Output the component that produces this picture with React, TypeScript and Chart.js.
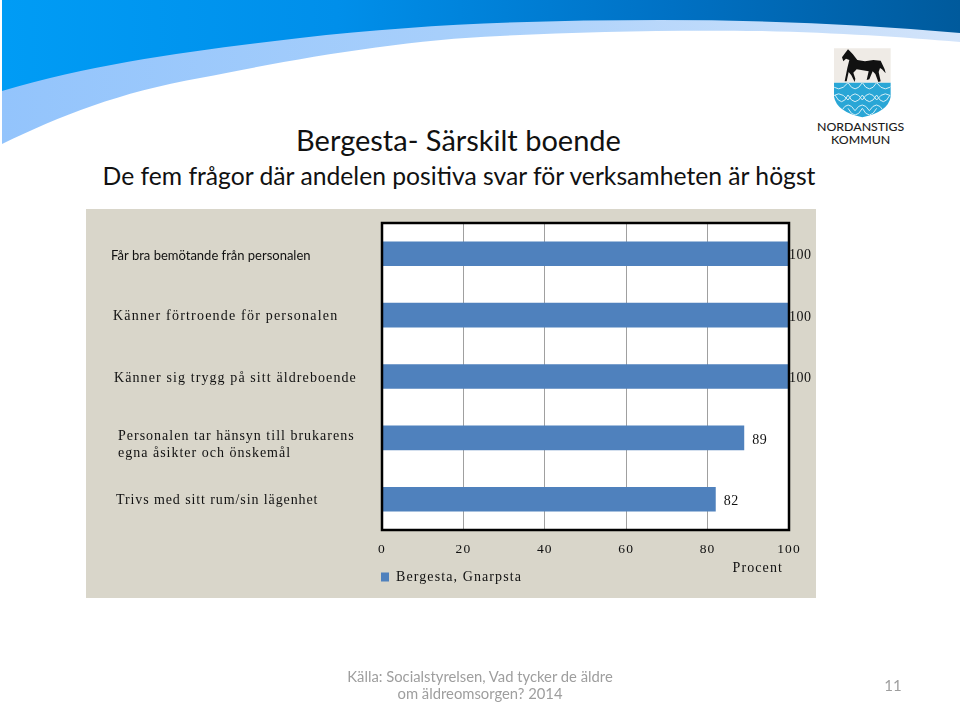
import React, { useEffect, useRef } from "react";
import { Chart, registerables } from "chart.js";

Chart.register(...registerables);

const categories: (string | string[])[] = [
  "Får bra bemötande från personalen",
  "Känner förtroende för personalen",
  "Känner sig trygg på sitt äldreboende",
  ["Personalen tar hänsyn till brukarens", "egna åsikter och önskemål"],
  "Trivs med sitt rum/sin lägenhet",
];
const seriesName = "Bergesta, Gnarpsta";
const seriesValues = [100, 100, 100, 89, 82];
const axisTitle = "Procent";
const SERIF = '"Liberation Serif"';

const labelLeft = [111, 113, 114, 118, 116];
const labelShift = [2, 1, 2, 7, 1];
const labelSpacing = ["0px", "1.2px", "1.1px", "1px", "0.9px"];

const overlay = {
  id: "overlay",
  beforeDraw(chart: any) {
    chart.ctx.letterSpacing = "1.1px";
    const leg = chart.legend;
    if (leg) { leg.left = 377; leg.right = 640; leg.top = 566; leg.bottom = 590; }
  },
  afterDraw(chart: any) {
    const { ctx, chartArea: a, scales } = chart;
    ctx.save();
    ctx.strokeStyle = "#000";
    ctx.lineWidth = 2.5;
    ctx.strokeRect(a.left, a.top, a.right - a.left, a.bottom - a.top);

    // category labels
    ctx.fillStyle = "#111";
    ctx.textBaseline = "middle";
    ctx.textAlign = "left";
    categories.forEach((c, i) => {
      const y = scales.y.getPixelForValue(i);
      const lines = Array.isArray(c) ? c : [c];
      lines.forEach((line, j) => {
        const yy = y + (j - (lines.length - 1) / 2) * 16.5 + labelShift[i];
        ctx.letterSpacing = labelSpacing[i];
        ctx.font = i === 0 ? '13px "Lato"' : `14px ${SERIF}`;
        ctx.fillText(line, labelLeft[i], yy);
      });
    });

    // data labels
    ctx.letterSpacing = "0.5px";
    ctx.font = `14px ${SERIF}`;
    const meta = chart.getDatasetMeta(0);
    meta.data.forEach((bar: any, i: number) => {
      const v = seriesValues[i];
      ctx.textAlign = "left";
      ctx.fillText(String(v), bar.x + (v === 100 ? 0 : 8), bar.y + 2);
    });

    // axis title
    ctx.letterSpacing = "1.1px";
    ctx.textAlign = "right";
    ctx.fillText(axisTitle, 783, 568);
    ctx.restore();
  },
};

function Logo() {
  return (
    <svg
      style={{ position: "absolute", left: 810, top: 40 }}
      width={100}
      height={115}
      viewBox="0 0 300 345"
    >
      <defs>
        <clipPath id="water">
          <path d="M72 128H242V170Q235 215 157 232Q80 215 72 170Z" />
        </clipPath>
      </defs>
      <path d="M72 25H242V128H72Z" fill="#EFEBE6" />
      <path d="M72 128H242V170Q235 215 157 232Q80 215 72 170Z" fill="#29A6D6" />
      <g fill="none" stroke="#D5EEF6" strokeWidth="3" clipPath="url(#water)">
        <path d="M60 128Q85 165 114 128Q135 165 157 128Q178 165 200 128Q225 165 254 128" />
        <path d="M60 180Q85 143 114 180Q135 143 157 180Q178 143 200 180Q225 143 254 180" />
        <path d="M75 165Q95 205 114 165Q135 205 157 165Q178 205 200 165Q220 205 240 165" />
        <path d="M95 212Q114 178 135 212Q157 178 178 212Q200 178 220 212" />
        <path d="M114 205Q135 245 157 205Q178 245 200 205" />
      </g>
      <path
        d="M96 52L106 38L114 28L120 34L128 42L142 60L165 64L190 60L212 62L224 88L227 100L216 88L210 84L206 96L212 124L205 126L196 102L188 94L178 118L170 120L176 94L140 88L130 98L136 116L134 126L124 106L116 96L110 124L104 124L112 84L118 60L108 56L100 64Z"
        fill="#111"
      />
      <text x="152" y="273" textAnchor="middle" fontFamily="Lato" fontWeight="500" fontSize="37" fill="#1b1b1b">NORDANSTIGS</text>
      <text x="152" y="312" textAnchor="middle" fontFamily="Lato" fontWeight="500" fontSize="37" fill="#1b1b1b">KOMMUN</text>
    </svg>
  );
}

export default function App() {
  const ref = useRef<HTMLCanvasElement>(null);

  useEffect(() => {
    const chart = new Chart(ref.current!, {
      type: "bar",
      plugins: [overlay],
      data: {
        labels: categories as any,
        datasets: [
          {
            label: seriesName,
            data: seriesValues,
            backgroundColor: "#4F81BD",
            categoryPercentage: 1,
            barPercentage: 0.4,
          },
        ],
      },
      options: {
        indexAxis: "y",
        responsive: false,
        animation: false,
        layout: { padding: { left: 0, top: 223, right: 171, bottom: 107 } },
        plugins: {
          tooltip: { enabled: false },
          legend: {
            position: "bottom",
            align: "start",
            labels: {
              boxWidth: 8,
              boxHeight: 9,
              padding: 4,
              color: "#111",
              font: { family: SERIF, size: 14 },
            },
          },
        },
        scales: {
          x: {
            min: 0,
            max: 100,
            ticks: {
              stepSize: 20,
              maxRotation: 0,
              padding: 11,
              color: "#111",
              font: { family: SERIF, size: 13.5 },
            },
            grid: { color: "#A0A0A0", drawTicks: false, lineWidth: 1 },
            border: { display: false },
            afterFit(s: any) { s.height = 40; },
          },
          y: {
            ticks: { display: false },
            grid: { display: false },
            border: { display: false },
            afterFit(s: any) { s.width = 382; },
          },
        },
      } as any,
    });
    return () => chart.destroy();
  }, []);

  return (
    <div style={{ position: "relative", width: 960, height: 705, overflow: "hidden", background: "#fff" }}>
      <style>{"html,body{margin:0;padding:0;background:#fff}"}</style>
      <svg style={{ position: "absolute", left: 0, top: 0 }} width={960} height={150}>
        <defs>
          <linearGradient id="dark" x1="0" x2="1" y1="0" y2="0">
            <stop offset="0" stopColor="#009CF5" />
            <stop offset="0.35" stopColor="#008FEA" />
            <stop offset="0.7" stopColor="#0071C4" />
            <stop offset="1" stopColor="#005A9C" />
          </linearGradient>
          <linearGradient id="light" x1="0" x2="1" y1="0" y2="0">
            <stop offset="0" stopColor="#93C4FC" />
            <stop offset="0.5" stopColor="#A9D0FB" />
            <stop offset="1" stopColor="#D3E4FA" />
          </linearGradient>
        </defs>
        <path
          d="M2 144C60 116 120 92 200 78C290 60 400 40 500 36C580 32 660 30 760 31C840 33 900 37 960 42V20H2Z"
          fill="url(#light)"
        />
        <path
          d="M2 91C100 62 200 50 300 38C420 24 540 20 660 20C760 20 860 24 960 33V0H2Z"
          fill="url(#dark)"
        />
      </svg>
      <Logo />
      <div style={{ position: "absolute", left: 0, width: 917, top: 122, textAlign: "center", fontFamily: "Lato", fontSize: 29, lineHeight: "36px", color: "#111" }}>
        Bergesta- Särskilt boende
      </div>
      <div style={{ position: "absolute", left: 0, width: 918, top: 160, textAlign: "center", fontFamily: "Lato", fontSize: 24.7, lineHeight: "32px", color: "#111" }}>
        De fem frågor där andelen positiva svar för verksamheten är högst
      </div>
      <div style={{ position: "absolute", left: 86, top: 209, width: 730, height: 389, background: "#D9D6CA" }} />
      <div style={{ position: "absolute", left: 382, top: 223, width: 407, height: 307, background: "#fff" }} />
      <canvas ref={ref} width={960} height={705} style={{ position: "absolute", left: 0, top: 0, display: "block" }} />
      <div style={{ position: "absolute", left: 280, width: 400, top: 668, textAlign: "center", fontFamily: "Lato", fontSize: 14.8, lineHeight: "17px", color: "#9E9E9E" }}>
        Källa: Socialstyrelsen, Vad tycker de äldre<br />om äldreomsorgen? 2014
      </div>
      <div style={{ position: "absolute", left: 867, width: 52, top: 676, textAlign: "center", fontFamily: "Lato", fontSize: 15, lineHeight: "18px", color: "#9E9E9E" }}>
        11
      </div>
    </div>
  );
}
